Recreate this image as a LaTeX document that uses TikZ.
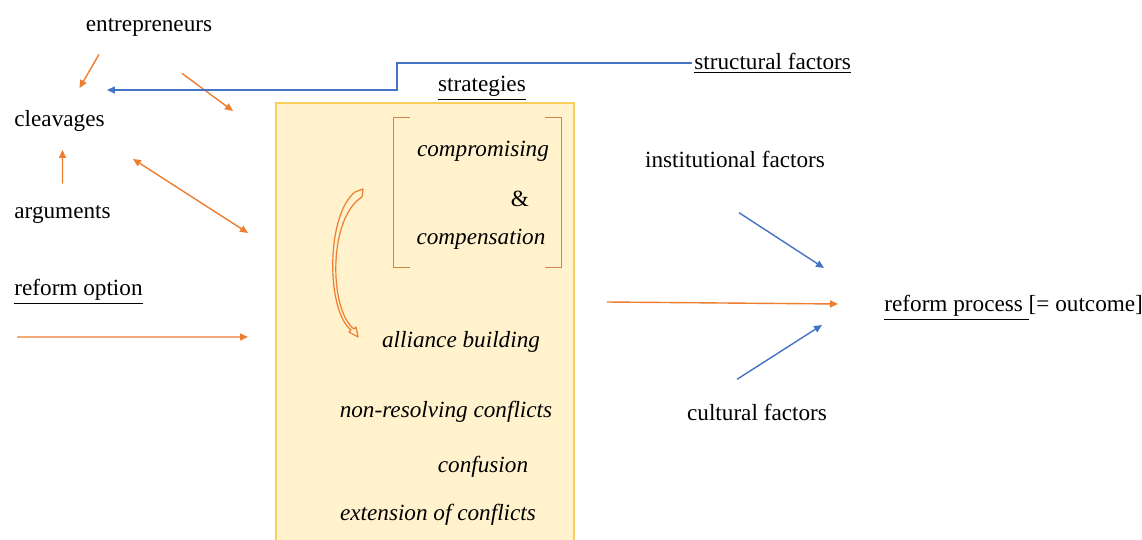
\documentclass[tikz,border=0pt]{standalone}
\usepackage{fontspec}
\setmainfont{Liberation Serif}
\usetikzlibrary{arrows.meta}
\definecolor{offorange}{HTML}{ED7D31}
\definecolor{offblue}{HTML}{4472C4}
\definecolor{boxfill}{HTML}{FFF2CC}
\definecolor{boxline}{HTML}{F8CF5A}
\definecolor{bracket}{HTML}{D0844A}
\tikzset{
  txt/.style={font=\fontsize{11.6}{14}\selectfont, inner sep=1pt},
  strat/.style={font=\fontsize{11.6}{14}\selectfont\itshape, inner sep=1pt},
  oarrow/.style={draw=offorange, line width=0.7pt, -{Triangle[length=4pt,width=3.5pt]}},
  barrow/.style={draw=offblue, line width=0.7pt, -{Triangle[length=4pt,width=3.5pt]}}
}
\begin{document}
\begin{tikzpicture}[x=0.5pt,y=-0.5pt]
  \useasboundingbox (0,0) rectangle (1142,540);

  % strategies box
  \fill[boxfill] (276,103) rectangle (574,545);
  \draw[boxline, line width=0.8pt] (276,545) -- (276,103) -- (574,103) -- (574,545);
  \node[inner sep=0pt, minimum width=149pt, minimum height=221pt, anchor=north west] (box) at (276,103) {};

  % labels on the left
  \node[txt] (entr) at (149,27) {entrepreneurs};
  \node[txt, anchor=west] (cleav) at (12,121) {cleavages};
  \node[txt, anchor=west] (arg) at (12,214) {arguments};
  \node[txt, anchor=west] (opt) at (12,292) {\underline{reform option}};

  % labels on the right
  \node[txt] (strattitle) at (482,88) {\underline{strategies}};
  \node[txt, anchor=west] (struct) at (692,63) {\underline{structural factors}};
  \node[txt] (inst) at (735,159) {institutional factors};
  \node[txt] (cult) at (757,412) {cultural factors};
  \node[txt, anchor=west] (reform) at (882,308) {\underline{reform process\ }[= outcome]};

  % strategies
  \node[strat] (comp) at (483,151) {compromising};
  \node[txt] (amp) at (520,199) {\&};
  \node[strat] (compen) at (481,239) {compensation};
  \node[strat] (alli) at (461,342) {alliance building};
  \node[strat] (nonres) at (446,412) {non-resolving conflicts};
  \node[strat] (conf) at (483,467) {confusion};
  \node[strat] (ext) at (438,515) {extension of conflicts};

  % brackets
  \draw[bracket, line width=0.5pt] (410,118) -- (393,118) -- (393,268) -- (410,268);
  \draw[bracket, line width=0.5pt] (545,118) -- (561,118) -- (561,268) -- (545,268);

  % curved arrow
  \draw[offorange, line width=0.6pt, line join=round]
    (355,192) .. controls (326,215) and (326,310) .. (351,330)
    -- (349,332) -- (358,337) -- (356,327) -- (354,329)
    .. controls (329,310) and (328,218) .. (362,197) -- (363,189) -- cycle;

  % arrows
  \draw[oarrow] ([shift={(-50,16)}]entr.south) -- ([shift={(20,-20)}]cleav.north);
  \draw[oarrow] ([shift={(33,35)}]entr.south) -- ([shift={(-43,8)}]box.north west);
  \draw[oarrow] ([shift={(0,-19)}]arg.north) -- ([shift={(3,16)}]cleav.south);
  \draw[oarrow, {Triangle[length=4pt,width=3.5pt]}-{Triangle[length=4pt,width=3.5pt]}]
    ([shift={(26,25)}]cleav.south east) -- ([shift={(-28,130)}]box.north west);
  \draw[oarrow] ([shift={(5,30)}]opt.south west) -- ([shift={(-28,234)}]box.north west);
  \draw[oarrow] ([shift={(32,199)}]box.north east) -- ([shift={(-44,-4)}]reform.west);

  \coordinate (bend) at (397,90);
  \draw[barrow] (struct.west) -| (bend) -- (bend -| cleav.east);
  \draw[barrow] ([shift={(4,43)}]inst.south) -- ([shift={(-58,-40)}]reform.west);
  \draw[barrow] ([shift={(-20,-22)}]cult.north) -- ([shift={(-60,17)}]reform.west);
\end{tikzpicture}
\end{document}
